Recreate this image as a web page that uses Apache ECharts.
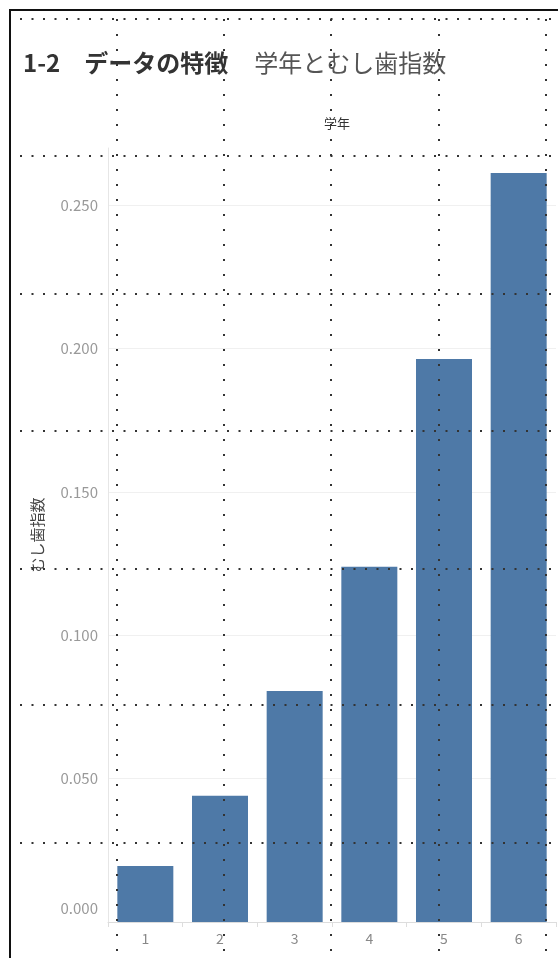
<!DOCTYPE html>
<html><head><meta charset="utf-8">
<script src="https://cdn.jsdelivr.net/npm/echarts@6/dist/echarts.min.js"></script>
<style>html,body{margin:0;padding:0;background:#fff}#c{width:558px;height:958px}</style>
</head><body><div id="c"></div>
<script>
const categories = ['1', '2', '3', '4', '5', '6'];
const values = [0.0195, 0.044, 0.0806, 0.1239, 0.1964, 0.2613];
const yTicks = [0, 0.05, 0.1, 0.15, 0.2, 0.25];

const overlayH = [19, 156, 294, 431, 569, 705, 843];
const overlayV = [117, 224, 331, 439, 546];

const chart = echarts.init(document.getElementById('c'), null, {renderer: 'canvas'});
const font = '"Noto Sans CJK JP", "Noto Sans", sans-serif';

const graphics = [];
overlayH.forEach(y => graphics.push({type: 'line', z: 100, silent: true,
  shape: {x1: 20, y1: y, x2: 558, y2: y},
  style: {stroke: '#333', lineWidth: 2, lineDash: [2, 9.5]}}));
overlayV.forEach(x => graphics.push({type: 'line', z: 100, silent: true,
  shape: {x1: x, y1: 19, x2: x, y2: 958},
  style: {stroke: '#333', lineWidth: 2, lineDash: [2, 13]}}));
graphics.push({type: 'polyline', z: 101, silent: true,
  shape: {points: [[10, 958], [10, 10], [558, 10]]},
  style: {stroke: '#111', lineWidth: 2, fill: null}});

chart.setOption({
  animation: false,
  backgroundColor: '#fff',
  title: [
    {text: '{a|1-2　データの特徴}{s|　}{b|学年とむし歯指数}', left: 18, top: 45,
      textStyle: {fontWeight: 'normal', rich: {
        a: {fontFamily: font, fontSize: 24, fontWeight: 'bold', color: '#333'},
        s: {fontFamily: font, fontSize: 26, fontWeight: 'normal'},
        b: {fontFamily: font, fontSize: 24, fontWeight: 'normal', color: '#555'}}}},
    {text: '学年', left: 332, top: 112, textAlign: 'center',
      textStyle: {fontFamily: font, fontSize: 13, fontWeight: 'normal', color: '#333'}}
  ],
  grid: {left: 108, right: 2, top: 148, bottom: 36, containLabel: false},
  xAxis: {
    type: 'category', data: categories,
    axisLine: {lineStyle: {color: '#ddd'}},
    axisTick: {show: true, length: 5, lineStyle: {color: '#ddd'}},
    axisLabel: {color: '#888', fontFamily: font, fontSize: 14, margin: 10}
  },
  yAxis: {
    type: 'value', min: 0, max: 0.27, interval: 0.05,
    name: 'むし歯指数', nameLocation: 'middle', nameRotate: 90, nameGap: 63,
    nameTextStyle: {color: '#444', fontFamily: font, fontSize: 15},
    axisLine: {show: true, lineStyle: {color: '#e6e6e6'}},
    axisTick: {show: false},
    splitLine: {showMaxLine: false, lineStyle: {color: '#f0f0f0'}},
    axisLabel: {
      color: '#999', fontFamily: font, fontSize: 15, margin: 10, showMaxLabel: false,
      formatter: v => {
        if (!yTicks.some(t => Math.abs(t - v) < 1e-9)) return '';
        return v === 0 ? '{z|0.000}' : v.toFixed(3);
      },
      rich: {z: {padding: [0, 0, 27, 0]}}
    }
  },
  series: [{
    type: 'bar', data: values, barWidth: '75%',
    itemStyle: {color: '#4e79a7'}
  }],
  graphic: graphics
});
</script></body></html>
